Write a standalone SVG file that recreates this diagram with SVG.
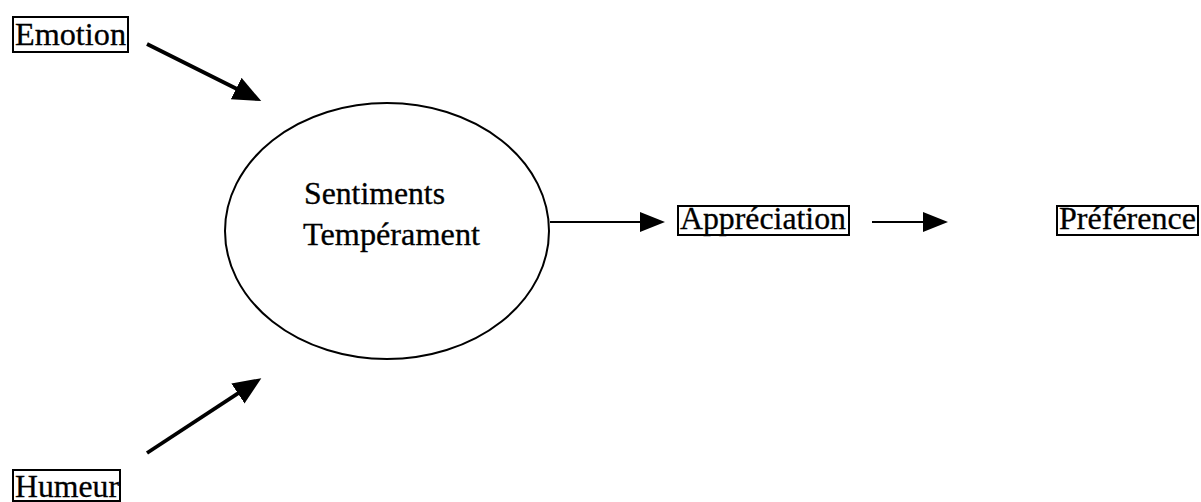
<svg xmlns="http://www.w3.org/2000/svg" width="1201" height="502" viewBox="0 0 1201 502">
<style>
.box{fill:none;stroke:#000;stroke-width:2}
.lbl{font-family:"Liberation Serif","Times New Roman",serif;font-size:31px;fill:#000;stroke:#000;stroke-width:0.3}
.thick{stroke:#000;stroke-width:3.8;fill:none}
.thin{stroke:#000;stroke-width:2;fill:none}
</style>
<defs>
<marker id="big" markerUnits="userSpaceOnUse" markerWidth="32" markerHeight="28" refX="16" refY="12" orient="auto">
<path d="M0,0 L28,12 L0,24 z" fill="#000"/>
</marker>
<marker id="small" markerUnits="userSpaceOnUse" markerWidth="30" markerHeight="24" refX="14" refY="10" orient="auto">
<path d="M0,0 L25,10 L0,20 z" fill="#000"/>
</marker>
</defs>
<rect width="1201" height="502" fill="#fff"/>
<g id="emotion">
<rect class="box" x="13" y="17" width="115" height="35"/>
<text class="lbl" x="15" y="45" textLength="111" lengthAdjust="spacingAndGlyphs">Emotion</text>
</g>
<g id="humeur">
<rect class="box" x="13" y="470" width="107" height="31"/>
<text class="lbl" x="15" y="497" textLength="104" lengthAdjust="spacingAndGlyphs">Humeur</text>
</g>
<g id="sentiments">
<ellipse cx="387" cy="231" rx="162" ry="128" fill="none" stroke="#000" stroke-width="2"/>
<text class="lbl" x="304" y="204" textLength="141" lengthAdjust="spacingAndGlyphs">Sentiments</text>
<text class="lbl" x="303" y="245" textLength="177" lengthAdjust="spacingAndGlyphs">Tempérament</text>
</g>
<g id="appreciation">
<rect class="box" x="678" y="206" width="171" height="29"/>
<text class="lbl" x="680" y="229" textLength="166" lengthAdjust="spacingAndGlyphs">Appréciation</text>
</g>
<g id="preference">
<rect class="box" x="1057" y="206" width="141" height="29"/>
<text class="lbl" x="1059" y="229" textLength="137" lengthAdjust="spacingAndGlyphs">Préférence</text>
</g>
<g id="connectors">
<line class="thick" x1="147" y1="44" x2="250.5" y2="95.7" marker-end="url(#big)"/>
<line class="thick" x1="147" y1="453" x2="251.3" y2="384.7" marker-end="url(#big)"/>
<line class="thin" x1="550" y1="222" x2="654" y2="222" marker-end="url(#small)"/>
<line class="thin" x1="872" y1="222" x2="937" y2="222" marker-end="url(#small)"/>
</g>
</svg>
